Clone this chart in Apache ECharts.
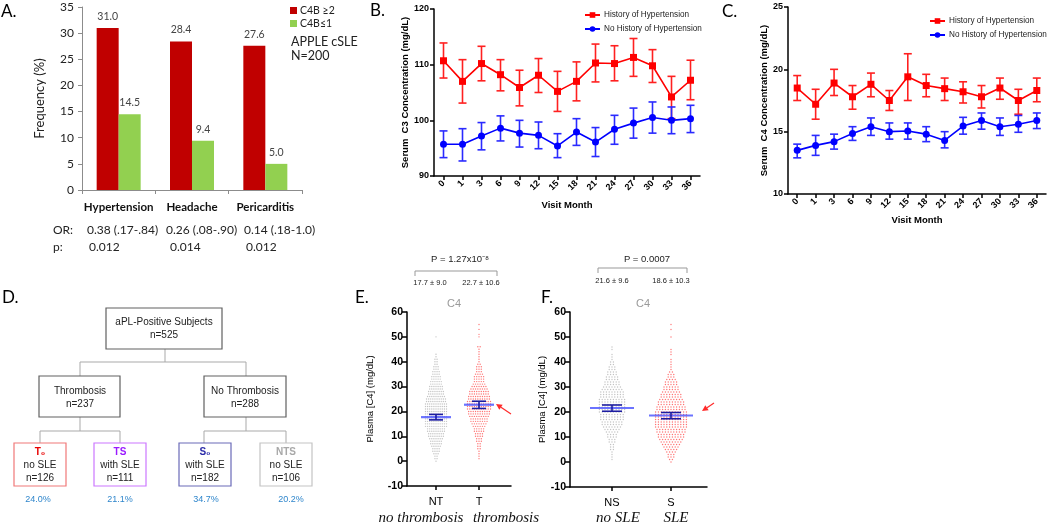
<!DOCTYPE html>
<html><head><meta charset="utf-8">
<script src="https://cdn.jsdelivr.net/npm/echarts@6/dist/echarts.min.js"></script>
<style>html,body{margin:0;padding:0;background:#fff}#c{width:1050px;height:524px}</style>
</head><body><div id="c"></div>
<script>
// ---------- Panel A data ----------
const aCategories = ['Hypertension', 'Headache', 'Pericarditis'];
const aSeriesNames = ['C4B ≥2', 'C4B≤1'];
const aHigh = [31.0, 28.4, 27.6];
const aLow = [14.5, 9.4, 5.0];
const aOR = ['0.38 (.17-.84)', '0.26 (.08-.90)', '0.14 (.18-1.0)'];
const aP = ['0.012', '0.014', '0.012'];
const aNote = ['APPLE cSLE', 'N=200'];

// ---------- Panels B & C data ----------
const months = ['0','1','3','6','9','12','15','18','21','24','27','30','33','36'];
const bcNames = ['History of Hypertension', 'No History of Hypertension'];
const c3Hist   = [110.7,107.0,110.2,108.2,105.9,108.1,105.2,107.0,110.3,110.2,111.3,109.8,104.2,107.2];
const c3HistLo = [107.6,103.1,107.1,105.3,102.6,105.0,101.6,103.5,106.9,107.1,107.9,106.8,100.3,103.7];
const c3HistHi = [113.9,110.9,113.3,110.9,109.0,111.1,108.8,110.5,113.7,113.4,114.7,112.7,107.9,110.8];
const c3No     = [95.7,95.7,97.2,98.6,97.7,97.3,95.4,97.9,96.1,98.4,99.5,100.5,100.0,100.3];
const c3NoLo   = [93.3,92.7,94.7,96.3,95.2,94.9,93.3,95.5,93.5,95.7,96.8,97.7,97.6,97.8];
const c3NoHi   = [98.1,98.5,99.6,100.8,100.0,99.7,97.6,100.3,98.7,100.9,102.2,103.3,102.4,102.7];
const c4Hist   = [18.5,17.2,18.9,17.8,18.8,17.5,19.4,18.7,18.45,18.2,17.8,18.5,17.5,18.3];
const c4HistLo = [17.5,16.0,17.9,16.8,17.8,16.7,17.5,17.8,17.5,17.3,16.9,17.6,16.4,17.4];
const c4HistHi = [19.5,18.4,20.0,18.7,19.7,18.3,21.25,19.6,19.3,19.0,18.7,19.3,18.4,19.3];
const c4No     = [13.5,13.9,14.2,14.85,15.4,15.0,15.05,14.8,14.3,15.45,15.9,15.4,15.6,15.9];
const c4NoLo   = [12.9,13.1,13.6,14.3,14.7,14.4,14.4,14.2,13.7,14.8,15.2,14.7,14.95,15.25];
const c4NoHi   = [14.0,14.7,14.8,15.4,16.1,15.7,15.7,15.4,15.0,16.15,16.5,16.1,16.3,16.5];

// ---------- Panel D data ----------
const dTitles = ['aPL-Positive Subjects', 'Thrombosis', 'No Thrombosis'];
const dTopN = [525, 237, 288];
const dCodes = ['T₀', 'TS', 'S₀', 'NTS'];
const dDesc = ['no SLE', 'with SLE', 'with SLE', 'no SLE'];
const dN = [126, 111, 182, 106];
const dPct = ['24.0%', '21.1%', '34.7%', '20.2%'];

// ---------- Panels E & F data (dot counts per 1 mg/dL, index = value) ----------
const eGroups = ['NT', 'T'];
const eSub = ['no thrombosis', 'thrombosis'];
const ntCounts = [1,2,2,3,4,4,5,6,6,7,8,8,9,9,11,11,11,11,11,11,11,11,11,11,10,10,9,8,8,7,7,6,6,5,5,4,4,3,3,2,2,2,1,1,0,0,0,0,0,0,1];
const tCounts  = [0,1,1,1,1,2,2,2,3,3,4,4,5,5,6,7,8,8,9,10,10,11,11,11,11,10,10,9,9,8,7,6,5,5,5,4,3,3,3,2,1,1,1,1,1,1,2,0,0,0,1,1,0,1,0,1];
const eMeans = [17.7, 22.7];
const eCI = [[16.6, 18.8], [21.2, 24.1]];
const eP = 'P = 1.27x10⁻⁸';
const eStats = ['17.7 ± 9.0', '22.7 ± 10.6'];

const fGroups = ['NS', 'S'];
const fSub = ['no SLE', 'SLE'];
const nsCounts = [0,1,1,1,1,2,2,2,3,3,4,4,5,6,7,8,8,9,9,9,10,10,10,10,10,10,9,9,9,8,7,6,6,5,5,4,4,3,3,2,2,1,1,1,0,1,1];
const sCounts  = [1,2,3,3,4,5,6,7,8,9,10,10,11,11,12,12,12,12,12,12,12,11,11,10,10,9,8,8,7,6,6,5,5,4,3,3,2,1,1,1,1,1,0,1,1,1,0,0,0,0,1,0,0,1,0,1];
const fMeans = [21.6, 18.6];
const fCI = [[20.3, 22.8], [17.3, 19.8]];
const fP = 'P = 0.0007';
const fStats = ['21.6 ± 9.6', '18.6 ± 10.3'];
const c4Label = 'C4';
const plasmaName = 'Plasma [C4] (mg/dL)';

// ---------- helpers ----------
const LS = '"Liberation Sans", Arial, sans-serif';
const LATO = 'Lato, "Liberation Sans", sans-serif';
const SERIF = '"Liberation Serif", "Times New Roman", serif';
const G = [];
function txt(x, y, text, size, o) {
  o = o || {};
  G.push({ type: 'text', silent: true, z: 10, style: Object.assign({
    x: x, y: y, text: text, fill: o.color || '#000',
    font: (o.style ? o.style + ' ' : '') + (o.weight ? o.weight + ' ' : '') + size + 'px ' + (o.family || LS),
    textAlign: o.align || 'left', textVerticalAlign: o.valign || 'middle'
  }, o.extra || {}) });
}
function ln(x1, y1, x2, y2, color, w) {
  G.push({ type: 'line', silent: true, shape: { x1: x1, y1: y1, x2: x2, y2: y2 }, style: { stroke: color, lineWidth: w || 1 } });
}
function box(x, y, w, h, color, lw) {
  G.push({ type: 'rect', silent: true, shape: { x: x, y: y, width: w, height: h }, style: { fill: '#fff', stroke: color, lineWidth: lw || 1.2 } });
}
function arrow(x1, y1, x2, y2, color) {
  const dx = x2 - x1, dy = y2 - y1, L = Math.hypot(dx, dy), ux = dx / L, uy = dy / L;
  const hl = 6, hw = 3;
  const bx = x2 - ux * hl, by = y2 - uy * hl;
  ln(x1, y1, bx, by, color, 1.2);
  G.push({ type: 'polygon', silent: true, shape: { points: [[x2, y2], [bx - uy * hw, by + ux * hw], [bx + uy * hw, by - ux * hw]] }, style: { fill: color } });
}
function errSeries(xi, lo, hi, color) {
  return {
    type: 'custom', xAxisIndex: xi, yAxisIndex: xi, silent: true, z: 2,
    encode: { x: 0, y: [1, 2] },
    data: lo.map((l, i) => [i, l, hi[i]]),
    renderItem: function (p, api) {
      const a = api.coord([api.value(0), api.value(1)]);
      const b = api.coord([api.value(0), api.value(2)]);
      const w = 4, st = { stroke: color, lineWidth: 1.6 };
      return { type: 'group', children: [
        { type: 'line', shape: { x1: a[0], y1: a[1], x2: b[0], y2: b[1] }, style: st },
        { type: 'line', shape: { x1: a[0] - w, y1: a[1], x2: a[0] + w, y2: a[1] }, style: st },
        { type: 'line', shape: { x1: b[0] - w, y1: b[1], x2: b[0] + w, y2: b[1] }, style: st }
      ] };
    }
  };
}
function swarm(counts, cx, gap) {
  const pts = [];
  counts.forEach((n, v) => { for (let k = 0; k < n; k++) pts.push([cx + (k - (n - 1) / 2) * gap, v]); });
  return pts;
}
function meanSeries(xi, xs, means, ci, halfMean, halfCap) {
  return {
    type: 'custom', xAxisIndex: xi, yAxisIndex: xi, silent: true, z: 5,
    encode: { x: 0, y: [1, 2, 3] },
    data: means.map((m, i) => [xs[i], m, ci[i][0], ci[i][1]]),
    renderItem: function (p, api) {
      const m = api.coord([api.value(0), api.value(1)]);
      const lo = api.coord([api.value(0), api.value(2)]);
      const hi = api.coord([api.value(0), api.value(3)]);
      const dk = { stroke: '#1c1ca0', lineWidth: 1.6 };
      return { type: 'group', children: [
        { type: 'line', shape: { x1: m[0] - halfMean, y1: m[1], x2: m[0] + halfMean, y2: m[1] }, style: { stroke: 'rgba(70,80,255,0.8)', lineWidth: 2.2 } },
        { type: 'line', shape: { x1: lo[0], y1: lo[1], x2: hi[0], y2: hi[1] }, style: dk },
        { type: 'line', shape: { x1: lo[0] - halfCap, y1: lo[1], x2: lo[0] + halfCap, y2: lo[1] }, style: dk },
        { type: 'line', shape: { x1: hi[0] - halfCap, y1: hi[1], x2: hi[0] + halfCap, y2: hi[1] }, style: dk }
      ] };
    }
  };
}

// ---------- Annotations: panel A ----------
txt(1, 12, 'A.', 17, { family: LATO });
txt(53, 230, 'OR:', 12, { family: LATO, color: '#222' });
txt(53, 247, 'p:', 12, { family: LATO, color: '#222' });
[87, 166, 244].forEach((x, i) => txt(x, 230, aOR[i], 12, { family: LATO, color: '#222' }));
[89, 170, 246].forEach((x, i) => txt(x, 247, aP[i], 12, { family: LATO, color: '#222' }));
txt(291, 42, aNote[0], 12.5, { family: LATO, color: '#222' });
txt(291, 56, aNote[1], 12.5, { family: LATO, color: '#222' });
// panel letters
txt(370, 11, 'B.', 17, { family: LATO });
txt(722, 12, 'C.', 17, { family: LATO });
txt(2, 298, 'D.', 17, { family: LATO });
txt(355, 298, 'E.', 17, { family: LATO });
txt(541, 298, 'F.', 17, { family: LATO });

// ---------- Panel D diagram ----------
const grey = '#a9a9a9', dark = '#606060';
ln(165, 349, 165, 362, grey); ln(80, 362, 246, 362, grey); ln(80, 362, 80, 376, grey); ln(246, 362, 246, 376, grey);
ln(80, 417, 80, 431, grey); ln(40, 431, 120, 431, grey); ln(40, 431, 40, 443, grey); ln(120, 431, 120, 443, grey);
ln(246, 417, 246, 431, grey); ln(204, 431, 286, 431, grey); ln(204, 431, 204, 443, grey); ln(286, 431, 286, 443, grey);
box(106, 308, 116, 41, dark);
box(39, 376, 81, 41, dark);
box(204, 376, 82, 41, dark);
txt(164, 322, dTitles[0], 10, { align: 'center', color: '#222' });
txt(164, 335, 'n=' + dTopN[0], 10, { align: 'center', color: '#222' });
txt(80, 391, dTitles[1], 10, { align: 'center', color: '#222' });
txt(80, 404, 'n=' + dTopN[1], 10, { align: 'center', color: '#222' });
txt(245, 391, dTitles[2], 10, { align: 'center', color: '#222' });
txt(245, 404, 'n=' + dTopN[2], 10, { align: 'center', color: '#222' });
const dBx = [14, 94, 179, 260];
const dBorder = ['#f07878', '#cc77ff', '#6a6ab8', '#c4c4c4'];
const dCodeCol = ['#e80000', '#9a1aff', '#2a2aa8', '#a8a8a8'];
const dPctX = [38, 120, 206, 291];
dBx.forEach((x, i) => {
  box(x, 443, 52, 43, dBorder[i], 1.2);
  txt(x + 26, 452, dCodes[i], 10, { align: 'center', weight: 'bold', color: dCodeCol[i] });
  txt(x + 26, 465, dDesc[i], 10, { align: 'center', color: '#222' });
  txt(x + 26, 478, 'n=' + dN[i], 10, { align: 'center', color: '#222' });
  txt(dPctX[i], 500, dPct[i], 9, { align: 'center', color: '#2f86cc' });
});

// ---------- Panels E & F annotations ----------
txt(460, 259, eP, 9.5, { align: 'center', color: '#222' });
ln(415, 271, 497, 271, '#999'); ln(415, 271, 415, 276, '#999'); ln(497, 271, 497, 276, '#999');
txt(430, 283, eStats[0], 7.5, { align: 'center', color: '#222' });
txt(481, 283, eStats[1], 7.5, { align: 'center', color: '#222' });
txt(454, 304, c4Label, 11, { align: 'center', color: '#9a9a9a' });
txt(647, 259, fP, 9.5, { align: 'center', color: '#222' });
ln(598, 268, 687, 268, '#999'); ln(598, 268, 598, 273, '#999'); ln(687, 268, 687, 273, '#999');
txt(612, 281, fStats[0], 7.5, { align: 'center', color: '#222' });
txt(671, 281, fStats[1], 7.5, { align: 'center', color: '#222' });
txt(643, 304, c4Label, 11, { align: 'center', color: '#9a9a9a' });
[421, 506].forEach((x, i) => txt(x, 518, eSub[i], 15, { align: 'center', style: 'italic', family: SERIF, color: '#111' }));
[618, 676].forEach((x, i) => txt(x, 518, fSub[i], 15, { align: 'center', style: 'italic', family: SERIF, color: '#111' }));
arrow(511, 414, 496, 404, '#ff2a2a');
arrow(714, 403, 702, 411, '#ff2a2a');

// ---------- axes ----------
const blackAxis = { show: true, lineStyle: { color: '#000', width: 1.5 } };
const blackTick = { show: true, length: 4, inside: false, lineStyle: { color: '#000', width: 1.5 } };
function bcX(gi, nameGap) {
  return { type: 'category', gridIndex: gi, data: months, axisLine: blackAxis, axisTick: Object.assign({ alignWithLabel: true }, blackTick),
    axisLabel: { rotate: 45, interval: 0, margin: 6, color: '#000', fontWeight: 'bold', fontSize: 9, fontFamily: LS },
    name: 'Visit Month', nameLocation: 'middle', nameGap: nameGap, nameTextStyle: { color: '#000', fontWeight: 'bold', fontSize: 9.5, fontFamily: LS } };
}
function bcY(gi, min, max, itv, name, nameGap) {
  return { type: 'value', gridIndex: gi, min: min, max: max, interval: itv, splitLine: { show: false }, axisLine: blackAxis, axisTick: blackTick,
    axisLabel: { color: '#000', fontWeight: 'bold', fontSize: 9, fontFamily: LS, margin: 5 },
    name: name, nameLocation: 'middle', nameGap: nameGap, nameTextStyle: { color: '#000', fontWeight: 'bold', fontSize: 9.5, fontFamily: LS } };
}
function dotX(gi, max, xs, labels) {
  return { type: 'value', gridIndex: gi, min: 0, max: max, splitLine: { show: false },
    axisLine: Object.assign({ onZero: false }, blackAxis),
    axisTick: Object.assign({ customValues: xs }, blackTick),
    axisLabel: { customValues: xs, formatter: v => labels[xs.indexOf(v)], margin: 10, color: '#000', fontSize: 11, fontFamily: LS } };
}
function dotY(gi, nameGap) {
  return { type: 'value', gridIndex: gi, min: -10, max: 60, interval: 10, splitLine: { show: false },
    axisLine: Object.assign({ onZero: false }, blackAxis), axisTick: Object.assign({}, blackTick, { length: 5 }),
    axisLabel: { color: '#000', fontWeight: 'bold', fontSize: 10.5, fontFamily: LS, margin: 4 },
    name: plasmaName, nameLocation: 'middle', nameGap: nameGap, nameTextStyle: { color: '#000', fontSize: 9.5, fontFamily: LS } };
}
const eX = [29, 72], fX = [42, 101];
const legText = { fontFamily: LS, fontSize: 8.2, color: '#222', padding: [0, 0, 0, -1] };

const option = {
  animation: false,
  backgroundColor: '#fff',
  grid: [
    { left: 82, top: 7, width: 220, height: 183 },
    { left: 434, top: 9, width: 266, height: 167 },
    { left: 788, top: 7, width: 258, height: 187 },
    { left: 407, top: 312, width: 104, height: 174 },
    { left: 570, top: 312, width: 137, height: 175 }
  ],
  legend: [
    { data: aSeriesNames, left: 285, top: 0, orient: 'vertical', icon: 'rect', itemWidth: 7, itemHeight: 7, itemGap: 2, selectedMode: false,
      textStyle: { fontFamily: LATO, fontSize: 10.5, color: '#222', padding: [0, 0, 0, -2] } },
    { data: bcNames, left: 579, top: 6, orient: 'vertical', itemWidth: 15, itemHeight: 7, itemGap: 6, selectedMode: false,
      textStyle: legText },
    { data: bcNames, left: 924, top: 12, orient: 'vertical', itemWidth: 15, itemHeight: 7, itemGap: 6, selectedMode: false,
      textStyle: legText }
  ],
  xAxis: [
    { type: 'category', gridIndex: 0, data: aCategories,
      axisLine: { show: true, lineStyle: { color: '#8c8c8c', width: 1 } },
      axisTick: { show: true, length: 4, lineStyle: { color: '#8c8c8c' } },
      axisLabel: { interval: 0, hideOverlap: false, color: '#111', fontWeight: 'bold', fontSize: 11.5, fontFamily: LATO, margin: 11 } },
    bcX(1, 24),
    bcX(2, 21),
    dotX(3, 104, eX, eGroups),
    dotX(4, 137, fX, fGroups)
  ],
  yAxis: [
    { type: 'value', gridIndex: 0, min: 0, max: 35, interval: 5, splitLine: { show: false },
      axisLine: { show: true, lineStyle: { color: '#8c8c8c', width: 1 } },
      axisTick: { show: true, length: 4, lineStyle: { color: '#8c8c8c' } },
      axisLabel: { color: '#222', fontSize: 12, fontFamily: LATO, margin: 8 },
      name: 'Frequency (%)', nameLocation: 'middle', nameGap: 36, nameTextStyle: { color: '#222', fontSize: 13, fontFamily: LATO } },
    bcY(1, 90, 120, 10, 'Serum  C3 Concentration (mg/dL)', 19),
    bcY(2, 10, 25, 5, 'Serum  C4 Concentration (mg/dL)', 16),
    dotY(3, 32),
    dotY(4, 14)
  ],
  graphic: G,
  series: [
    { type: 'bar', name: aSeriesNames[0], xAxisIndex: 0, yAxisIndex: 0, data: aHigh, barWidth: '30%', barGap: '0%',
      itemStyle: { color: '#c00000' },
      label: { show: true, position: 'top', distance: 6, formatter: p => p.value.toFixed(1), fontFamily: LATO, fontSize: 10.5, color: '#444' } },
    { type: 'bar', name: aSeriesNames[1], xAxisIndex: 0, yAxisIndex: 0, data: aLow, barWidth: '30%', barGap: '0%',
      itemStyle: { color: '#92d050' },
      label: { show: true, position: 'top', distance: 6, formatter: p => p.value.toFixed(1), fontFamily: LATO, fontSize: 10.5, color: '#444' } },

    errSeries(1, c3HistLo, c3HistHi, '#ff2020'),
    errSeries(1, c3NoLo, c3NoHi, '#2a2aff'),
    { type: 'line', name: bcNames[0], xAxisIndex: 1, yAxisIndex: 1, data: c3Hist, symbol: 'rect', symbolSize: 7, z: 3,
      lineStyle: { color: '#ff0000', width: 1.6 }, itemStyle: { color: '#ff0000' } },
    { type: 'line', name: bcNames[1], xAxisIndex: 1, yAxisIndex: 1, data: c3No, symbol: 'circle', symbolSize: 7, z: 3,
      lineStyle: { color: '#0000ff', width: 1.6 }, itemStyle: { color: '#0000ff' } },

    errSeries(2, c4HistLo, c4HistHi, '#ff2020'),
    errSeries(2, c4NoLo, c4NoHi, '#2a2aff'),
    { type: 'line', name: bcNames[0], xAxisIndex: 2, yAxisIndex: 2, data: c4Hist, symbol: 'rect', symbolSize: 7, z: 3,
      lineStyle: { color: '#ff0000', width: 1.6 }, itemStyle: { color: '#ff0000' } },
    { type: 'line', name: bcNames[1], xAxisIndex: 2, yAxisIndex: 2, data: c4No, symbol: 'circle', symbolSize: 7, z: 3,
      lineStyle: { color: '#0000ff', width: 1.6 }, itemStyle: { color: '#0000ff' } },

    { type: 'scatter', xAxisIndex: 3, yAxisIndex: 3, data: swarm(ntCounts, eX[0], 2.1), symbolSize: 1.4, itemStyle: { color: '#b4b4b4' }, silent: true },
    { type: 'scatter', xAxisIndex: 3, yAxisIndex: 3, data: swarm(tCounts, eX[1], 2.3), symbolSize: 1.4, itemStyle: { color: '#ff5050' }, silent: true },
    meanSeries(3, eX, eMeans, eCI, 15, 7),
    { type: 'scatter', xAxisIndex: 4, yAxisIndex: 4, data: swarm(nsCounts, fX[0], 2.8), symbolSize: 1.4, itemStyle: { color: '#b4b4b4' }, silent: true },
    { type: 'scatter', xAxisIndex: 4, yAxisIndex: 4, data: swarm(sCounts, fX[1], 2.8), symbolSize: 1.4, itemStyle: { color: '#ff5050' }, silent: true },
    meanSeries(4, fX, fMeans, fCI, 22, 10)
  ]
};
const chart = echarts.init(document.getElementById('c'), null, { renderer: 'canvas' });
chart.setOption(option);
</script>
</body></html>
